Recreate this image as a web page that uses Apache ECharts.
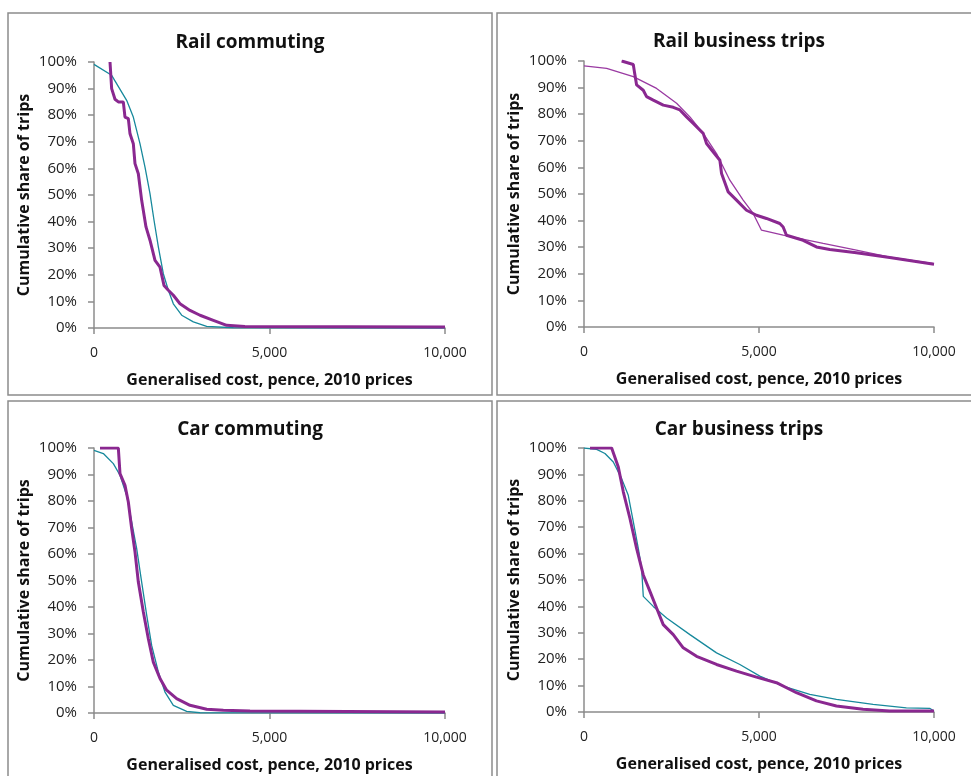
<!DOCTYPE html>
<html>
<head>
<meta charset="utf-8">
<script src="https://cdn.jsdelivr.net/npm/echarts@6/dist/echarts.min.js"></script>
<style>
html,body{margin:0;padding:0;background:#fff;}
#c{width:971px;height:776px;}
</style>
</head>
<body>
<div id="c"></div>
<script>
// ---------- DATA ----------
const titles = ['Rail commuting', 'Rail business trips', 'Car commuting', 'Car business trips'];
const xTickValues = [0, 5000, 10000];
const yTickStep = 0.1;

// Rail commuting
const railCommObserved = [[456,1.00],[503,0.90],[598,0.86],[693,0.85],[835,0.85],[883,0.793],[978,0.787],[1026,0.73],[1120,0.693],[1168,0.618],[1263,0.58],[1358,0.48],[1481,0.38],[1595,0.33],[1738,0.254],[1880,0.229],[1994,0.16],[2118,0.142],[2260,0.123],[2450,0.091],[2735,0.066],[3020,0.048],[3400,0.029],[3780,0.010],[4300,0.006],[10000,0.004]];
const railCommModel = [[0,0.991],[503,0.95],[930,0.856],[1120,0.793],[1310,0.693],[1453,0.605],[1595,0.505],[1710,0.405],[1833,0.305],[1975,0.204],[2118,0.142],[2260,0.091],[2498,0.048],[2830,0.023],[3210,0.006],[3970,0.001],[10000,0.0]];

// Rail business trips
const railBusObserved = [[1075,1.00],[1408,0.987],[1440,0.96],[1503,0.91],[1693,0.89],[1788,0.866],[1979,0.853],[2264,0.834],[2550,0.826],[2740,0.816],[2930,0.79],[3121,0.765],[3406,0.728],[3501,0.69],[3692,0.658],[3882,0.627],[3930,0.577],[4120,0.508],[4358,0.477],[4643,0.439],[4928,0.42],[5213,0.408],[5594,0.389],[5690,0.376],[5785,0.345],[6261,0.326],[6641,0.301],[7022,0.291],[7783,0.279],[8734,0.261],[10000,0.236]];
const railBusModel = [[0,0.982],[647,0.972],[1408,0.941],[2074,0.897],[2645,0.841],[3026,0.79],[3406,0.728],[3787,0.652],[4167,0.552],[4548,0.477],[4833,0.427],[5071,0.364],[5690,0.345],[6832,0.314],[7783,0.289],[8734,0.263],[10000,0.238]];

// Car commuting
const carCommObserved = [[171,1.00],[693,1.00],[741,0.903],[883,0.859],[978,0.796],[1073,0.696],[1168,0.608],[1263,0.494],[1406,0.381],[1548,0.28],[1690,0.192],[1880,0.13],[2070,0.086],[2355,0.054],[2735,0.029],[3210,0.014],[3685,0.010],[4445,0.0075],[10000,0.004]];
const carCommModel = [[0,0.991],[266,0.979],[551,0.941],[741,0.897],[931,0.821],[1073,0.721],[1216,0.62],[1358,0.494],[1501,0.369],[1643,0.255],[1833,0.155],[2023,0.079],[2260,0.029],[2640,0.006],[3020,0.001],[10000,0.0]];

// Car business trips
const carBusObserved = [[171,1.00],[790,1.00],[980,0.928],[1123,0.834],[1313,0.733],[1503,0.62],[1694,0.519],[1884,0.457],[2074,0.394],[2264,0.331],[2550,0.293],[2835,0.243],[3216,0.211],[3787,0.18],[4358,0.155],[4928,0.132],[5499,0.111],[6070,0.073],[6641,0.042],[7212,0.023],[7973,0.010],[8734,0.004],[10000,0.004]];
const carBusModel = [[0,1.00],[362,0.995],[599,0.979],[837,0.947],[1075,0.884],[1265,0.821],[1408,0.721],[1551,0.62],[1646,0.545],[1694,0.438],[1979,0.40],[2360,0.356],[3026,0.293],[3787,0.224],[4453,0.18],[5024,0.136],[5690,0.098],[6451,0.067],[7212,0.048],[8259,0.029],[9210,0.016],[9876,0.014],[10000,0.004]];

// ---------- STYLE ----------
const PURPLE = '#8a2890';
const PURPLE_THIN = '#9a3aa2';
const TEAL = '#17899c';
const AXIS = '#8c8c8c';
const FONT = '"Open Sans", Lato, sans-serif';

const panels = [
  {grid:{left:94, top:62, width:351, height:266}, title:{x:245, y:28}, obs:railCommObserved, model:railCommModel, modelColor:TEAL},
  {grid:{left:584, top:61, width:350, height:266}, title:{x:734, y:27}, obs:railBusObserved, model:railBusModel, modelColor:PURPLE_THIN},
  {grid:{left:94, top:448, width:351, height:265}, title:{x:245, y:415}, obs:carCommObserved, model:carCommModel, modelColor:TEAL},
  {grid:{left:584, top:448, width:350, height:264}, title:{x:734, y:415}, obs:carBusObserved, model:carBusModel, modelColor:TEAL}
];

const option = {
  backgroundColor:'#fff',
  animation:false,
  title: panels.map((p,i)=>({
    text: titles[i], left: p.title.x, top: p.title.y, textAlign:'center',
    textStyle:{fontFamily:FONT, fontWeight:'bold', fontSize:19, color:'#111'}
  })),
  grid: panels.map(p=>Object.assign({containLabel:false}, p.grid)),
  xAxis: panels.map((p,i)=>({
    type:'value', gridIndex:i, min:0, max:10000, interval:5000,
    name:'Generalised cost, pence, 2010 prices', nameLocation:'middle', nameGap:44,
    nameTextStyle:{fontFamily:FONT, fontWeight:'bold', fontSize:16, color:'#111'},
    axisLine:{show:true, lineStyle:{color:AXIS, width:1.5}},
    axisTick:{show:true, length:6, lineStyle:{color:AXIS, width:1.5}},
    axisLabel:{margin:18, fontFamily:FONT, fontSize:14, color:'#222',
      formatter:v=>xTickValues.indexOf(v)>=0 ? v.toLocaleString('en-GB') : ''},
    splitLine:{show:false}
  })),
  yAxis: panels.map((p,i)=>({
    type:'value', gridIndex:i, min:0, max:1, interval:yTickStep,
    name:'Cumulative share of trips', nameLocation:'middle', nameGap:62, nameRotate:90,
    nameTextStyle:{fontFamily:FONT, fontWeight:'bold', fontSize:16, color:'#111'},
    axisLine:{show:true, lineStyle:{color:AXIS, width:1.5}},
    axisTick:{show:true, length:6, lineStyle:{color:AXIS, width:1.5}},
    axisLabel:{margin:17, fontFamily:FONT, fontSize:15, color:'#222',
      formatter:v=>Math.round(v*100)+'%'},
    splitLine:{show:false}
  })),
  series: panels.flatMap((p,i)=>[
    {type:'line', xAxisIndex:i, yAxisIndex:i, data:p.model, showSymbol:false, symbol:'none',
     lineStyle:{color:p.modelColor, width:1.3}, z:2},
    {type:'line', xAxisIndex:i, yAxisIndex:i, data:p.obs, showSymbol:false, symbol:'none',
     lineStyle:{color:PURPLE, width:3}, z:3}
  ]),
  graphic: [
    {type:'rect', shape:{x:8, y:13, width:484, height:382}, style:{fill:'none', stroke:'#8c8c8c', lineWidth:1.5}, silent:true},
    {type:'rect', shape:{x:497, y:13, width:480, height:382}, style:{fill:'none', stroke:'#8c8c8c', lineWidth:1.5}, silent:true},
    {type:'rect', shape:{x:8, y:401, width:484, height:380}, style:{fill:'none', stroke:'#8c8c8c', lineWidth:1.5}, silent:true},
    {type:'rect', shape:{x:497, y:401, width:480, height:380}, style:{fill:'none', stroke:'#8c8c8c', lineWidth:1.5}, silent:true}
  ]
};

const chart = echarts.init(document.getElementById('c'), null, {renderer:'canvas'});
chart.setOption(option);
</script>
</body>
</html>
